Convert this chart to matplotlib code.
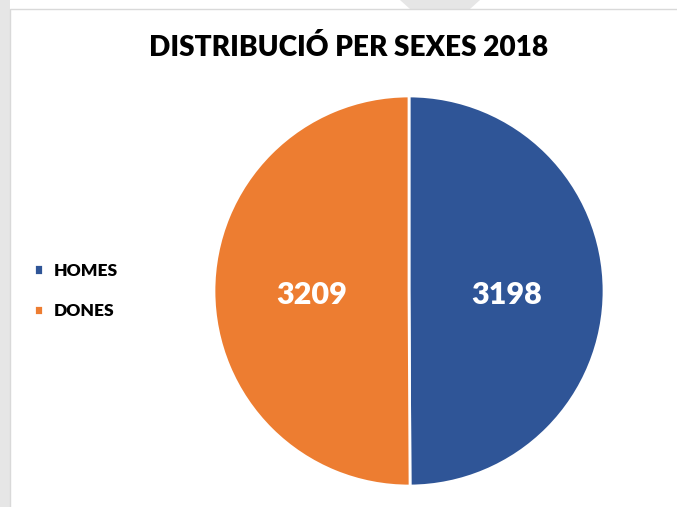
import numpy as np
import matplotlib.pyplot as plt
from matplotlib.patches import Rectangle, Polygon

labels = ["HOMES", "DONES"]
values = [3198, 3209]
colors = ["#2F5597", "#ED7D31"]
title = "DISTRIBUCIÓ PER SEXES 2018"

plt.rcParams['font.family'] = ['Lato', 'DejaVu Sans']

fig = plt.figure(figsize=(6.77, 5.07), dpi=100)
fig.patch.set_facecolor("white")

# faint background shapes behind the chart frame
fig.patches.append(Polygon([(0, 0), (10 / 677, 0), (10 / 677, 1), (0, 1)],
                           closed=True, transform=fig.transFigure,
                           facecolor="#e6e6e6", edgecolor="none", zorder=-3))
fig.patches.append(Polygon([(400 / 677, 1), (480 / 677, 1), (470 / 677, 1 - 9 / 507), (410 / 677, 1 - 9 / 507)],
                           closed=True, transform=fig.transFigure,
                           facecolor="#e6e6e6", edgecolor="none", zorder=-3))
fig.patches.append(Rectangle((10 / 677, -0.01), 1, 1 - 9 / 507 + 0.01,
                             transform=fig.transFigure, facecolor="white",
                             edgecolor="#d9d9d9", linewidth=1, zorder=-2))

cx, cy, r = 409 / 677, 1 - 291 / 507, 196
ax = fig.add_axes([cx - r / 677, cy - r / 507, 2 * r / 677, 2 * r / 507])
ax.set_facecolor("none")
wedges, texts = ax.pie(values, colors=colors, startangle=90, counterclock=False,
                       wedgeprops=dict(edgecolor="white", linewidth=2))
for w, v in zip(wedges, values):
    ang = np.deg2rad((w.theta1 + w.theta2) / 2)
    ax.text(0.5 * np.cos(ang), 0.5 * np.sin(ang) - 0.02, str(v), ha="center", va="center",
            color="white", fontsize=22, fontweight="heavy")
ax.set_xlim(-1.005, 1.005)
ax.set_ylim(-1.005, 1.005)
ax.set_aspect("equal")

fig.text(349 / 677, 1 - 48 / 507, title, ha="center", va="center",
         fontsize=20.2, fontweight="heavy", color="black")

ax.legend(wedges, labels, loc="center left", bbox_to_anchor=(18 / 677, 1 - 291 / 507),
          bbox_transform=fig.transFigure, frameon=False,
          prop=dict(weight="heavy", size=12.5), handlelength=0.55, handleheight=0.55,
          handletextpad=0.6, labelspacing=1.4)

fig.savefig("out.png", dpi=100)
